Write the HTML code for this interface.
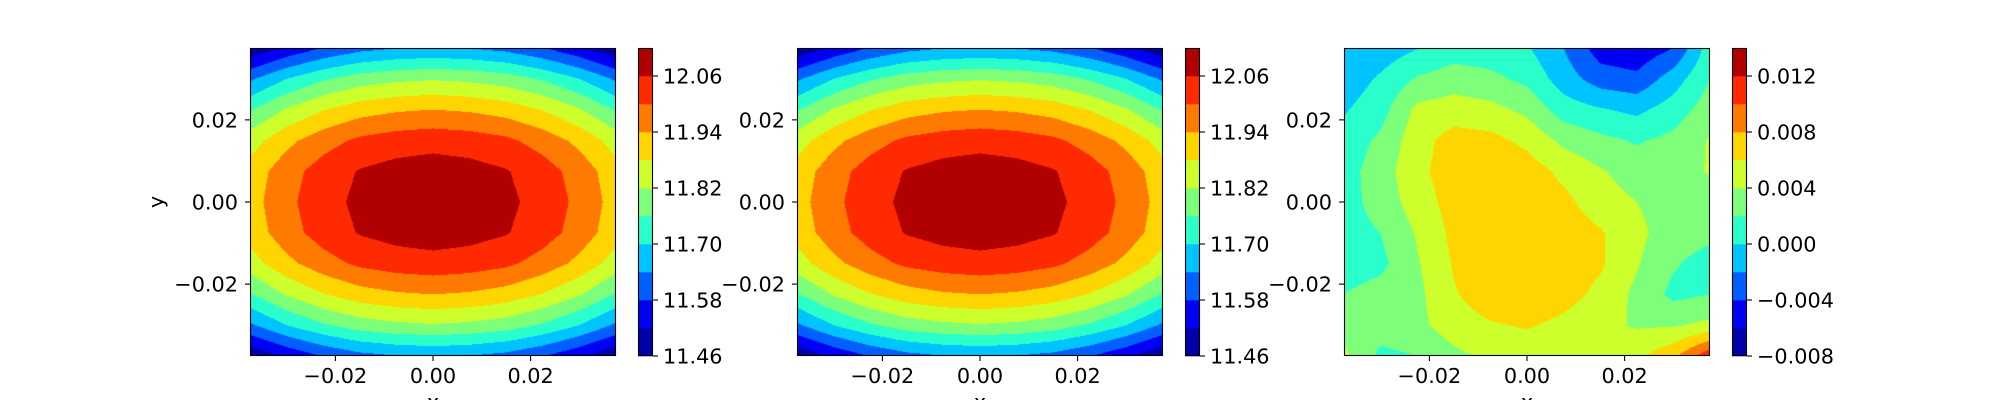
<!DOCTYPE html>
<html><head><meta charset="utf-8"><style>
html,body{margin:0;padding:0;background:#fff;}
#fig{position:relative;width:2000px;height:400px;overflow:hidden;background:#fff;}
canvas{position:absolute;}
svg{position:absolute;left:0;top:0;}
text{font-family:"DejaVu Sans","Liberation Sans",sans-serif;font-size:20.8px;fill:#000;}
</style></head><body>
<div id="fig">
<canvas id="c0" width="366" height="308" style="left:250px;top:48px"></canvas>
<canvas id="c1" width="366" height="308" style="left:797px;top:48px"></canvas>
<canvas id="c2" width="366" height="308" style="left:1344px;top:48px"></canvas>
<svg id="ov" width="2000" height="400"></svg>
</div>
<script>
const gridX = [-0.0375,-0.03,-0.0225,-0.015,-0.0075,0,0.0075,0.015,0.0225,0.03,0.0375];
const gridY = [0.0375,0.03,0.0225,0.015,0.0075,0,-0.0075,-0.015,-0.0225,-0.03,-0.0375];
const axisTicks = [-0.02,0,0.02];
const axisTickLabels = ["\u22120.02","0.00","0.02"];
const levels1 = [11.46,11.52,11.58,11.64,11.70,11.76,11.82,11.88,11.94,12.00,12.06,12.12];
const levels3 = [-0.008,-0.006,-0.004,-0.002,0,0.002,0.004,0.006,0.008,0.010,0.012,0.014];
const cbTicks1 = [11.46,11.58,11.70,11.82,11.94,12.06];
const cbTickLabels1 = ["11.46","11.58","11.70","11.82","11.94","12.06"];
const cbTicks3 = [-0.008,-0.004,0,0.004,0.008,0.012];
const cbTickLabels3 = ["\u22120.008","\u22120.004","0.000","0.004","0.008","0.012"];
const bandColors = ["#0000a8","#0000f5","#0060ff","#00c4ff","#2affcc","#7eff7a","#ccff2c","#ffd500","#ff7a00","#ff2a00","#b00000"];
const z1 = [
[11.470,11.531,11.583,11.620,11.638,11.646,11.638,11.620,11.583,11.531,11.470],
[11.629,11.700,11.752,11.789,11.807,11.815,11.807,11.789,11.752,11.700,11.629],
[11.754,11.825,11.877,11.914,11.932,11.940,11.932,11.914,11.877,11.825,11.754],
[11.852,11.923,11.975,12.012,12.030,12.038,12.030,12.012,11.975,11.923,11.852],
[11.904,11.975,12.027,12.064,12.082,12.090,12.082,12.064,12.027,11.975,11.904],
[11.914,11.985,12.037,12.074,12.092,12.100,12.092,12.074,12.037,11.985,11.914],
[11.904,11.975,12.027,12.064,12.082,12.090,12.082,12.064,12.027,11.975,11.904],
[11.852,11.923,11.975,12.012,12.030,12.038,12.030,12.012,11.975,11.923,11.852],
[11.754,11.825,11.877,11.914,11.932,11.940,11.932,11.914,11.877,11.825,11.754],
[11.629,11.700,11.752,11.789,11.807,11.815,11.807,11.789,11.752,11.700,11.629],
[11.470,11.531,11.583,11.620,11.638,11.646,11.638,11.620,11.583,11.531,11.470]];
const z2 = [
[11.470,11.531,11.583,11.620,11.638,11.646,11.638,11.620,11.583,11.531,11.470],
[11.629,11.700,11.752,11.789,11.807,11.815,11.807,11.789,11.752,11.700,11.629],
[11.754,11.825,11.877,11.914,11.932,11.940,11.932,11.914,11.877,11.825,11.754],
[11.852,11.923,11.975,12.012,12.030,12.038,12.030,12.012,11.975,11.923,11.852],
[11.904,11.975,12.027,12.064,12.082,12.090,12.082,12.064,12.027,11.975,11.904],
[11.914,11.985,12.037,12.074,12.092,12.100,12.092,12.074,12.037,11.985,11.914],
[11.904,11.975,12.027,12.064,12.082,12.090,12.082,12.064,12.027,11.975,11.904],
[11.852,11.923,11.975,12.012,12.030,12.038,12.030,12.012,11.975,11.923,11.852],
[11.754,11.825,11.877,11.914,11.932,11.940,11.932,11.914,11.877,11.825,11.754],
[11.629,11.700,11.752,11.789,11.807,11.815,11.807,11.789,11.752,11.700,11.629],
[11.470,11.531,11.583,11.620,11.638,11.646,11.638,11.620,11.583,11.531,11.470]];
const z3 = [
[-0.0015,-0.0012,-0.0001,0.0010,0.0008,0.0002,-0.0020,-0.0050,-0.0055,-0.0040,0.0010],
[-0.0012,0.0003,0.0022,0.0030,0.0025,0.0015,-0.0010,-0.0030,-0.0035,-0.0010,0.0020],
[-0.0002,0.0012,0.0045,0.0050,0.0046,0.0035,0.0010,0.0002,-0.0005,0.0010,0.0030],
[0.0008,0.0024,0.0052,0.0068,0.0066,0.0055,0.0035,0.0025,0.0018,0.0025,0.0042],
[0.0012,0.0030,0.0055,0.0070,0.0075,0.0070,0.0055,0.0042,0.0030,0.0030,0.0042],
[0.0012,0.0028,0.0050,0.0068,0.0075,0.0075,0.0065,0.0050,0.0040,0.0030,0.0030],
[0.0012,0.0020,0.0042,0.0065,0.0075,0.0078,0.0070,0.0062,0.0045,0.0030,0.0025],
[0.0010,0.0015,0.0038,0.0062,0.0075,0.0078,0.0070,0.0063,0.0042,0.0022,0.0012],
[0.0020,0.0028,0.0035,0.0058,0.0072,0.0075,0.0068,0.0055,0.0035,0.0015,0.0020],
[0.0030,0.0030,0.0035,0.0050,0.0058,0.0062,0.0055,0.0045,0.0038,0.0038,0.0045],
[0.0045,0.0015,0.0020,0.0035,0.0045,0.0048,0.0048,0.0048,0.0055,0.0075,0.0115]];

const PW=366, PH=308, TOP=48;
const lefts=[250,797,1344];
const XMIN=-0.0375, XMAX=0.0375, YMIN=-0.0375, YMAX=0.0375;
const NS="http://www.w3.org/2000/svg";
const ov=document.getElementById('ov');
function xScale(L,v){return L+(v-XMIN)/(XMAX-XMIN)*PW;}
function yScale(v){return TOP+(YMAX-v)/(YMAX-YMIN)*PH;}
function mk(tag,attrs){const e=document.createElementNS(NS,tag);for(const k in attrs)e.setAttribute(k,attrs[k]);ov.appendChild(e);return e;}
function hex(c){return [parseInt(c.substr(1,2),16),parseInt(c.substr(3,2),16),parseInt(c.substr(5,2),16)];}
const rgb=bandColors.map(hex);

function render(cid,z,levels){
  const cv=document.getElementById(cid),ctx=cv.getContext('2d');
  const img=ctx.createImageData(PW,PH);
  const nx=gridX.length, ny=gridY.length;
  const lo=levels[0], hi=levels[levels.length-1], nb=levels.length-1;
  for(let py=0;py<PH;py++){
    const yv=YMAX-(py+0.5)/PH*(YMAX-YMIN);
    let fy=(yv-gridY[0])/(gridY[1]-gridY[0]); fy=Math.max(0,Math.min(ny-1.0001,fy));
    const j=Math.floor(fy), ty=fy-j;
    for(let px=0;px<PW;px++){
      const xv=XMIN+(px+0.5)/PW*(XMAX-XMIN);
      let fx=(xv-gridX[0])/(gridX[1]-gridX[0]); fx=Math.max(0,Math.min(nx-1.0001,fx));
      const i=Math.floor(fx), tx=fx-i;
      const v=(z[j][i]*(1-tx)+z[j][i+1]*tx)*(1-ty)+(z[j+1][i]*(1-tx)+z[j+1][i+1]*tx)*ty;
      let b=Math.floor((v-lo)/(hi-lo)*nb); b=Math.max(0,Math.min(nb-1,b));
      const c=rgb[b], k=(py*PW+px)*4;
      img.data[k]=c[0];img.data[k+1]=c[1];img.data[k+2]=c[2];img.data[k+3]=255;
    }
  }
  ctx.putImageData(img,0,0);
}
render('c0',z1,levels1);
render('c1',z2,levels1);
render('c2',z3,levels3);

const panelLevels=[levels1,levels1,levels3];
const panelCbTicks=[cbTicks1,cbTicks1,cbTicks3];
const panelCbLabels=[cbTickLabels1,cbTickLabels1,cbTickLabels3];
for(let p=0;p<3;p++){
  const L=lefts[p];
  const sp=mk('rect',{x:L+0.5,y:TOP+0.5,width:PW-1,height:PH-1,fill:'none',stroke:'#000','stroke-width':1.1});
  
  
  for(let t=0;t<axisTicks.length;t++){
    const xt=xScale(L,axisTicks[t]);
    const tk=mk('line',{x1:xt,x2:xt,y1:TOP+PH,y2:TOP+PH+5,stroke:'#000','stroke-width':1.1});
    
    
    const tl=mk('text',{x:xt,y:TOP+PH+27,'text-anchor':'middle'});
    tl.textContent=axisTickLabels[t];
    
    
    const yt=yScale(axisTicks[t]);
    const tk2=mk('line',{x1:L-5,x2:L,y1:yt,y2:yt,stroke:'#000','stroke-width':1.1});
    
    
    const tl2=mk('text',{x:L-12,y:yt+7.5,'text-anchor':'end'});
    tl2.textContent=axisTickLabels[t];
    
    
  }
  const xl=mk('text',{x:L+PW/2,y:409,'text-anchor':'middle'});
  xl.textContent='x';
  
  
  const lv=panelLevels[p], CL=L+388, CW=15;
  const cbY=v=>TOP+(lv[lv.length-1]-v)/(lv[lv.length-1]-lv[0])*PH;
  for(let b=0;b<lv.length-1;b++){
    const r=mk('rect',{x:CL,y:cbY(lv[b+1]),width:CW,height:cbY(lv[b])-cbY(lv[b+1])+0.3,fill:bandColors[b]});
    
    
  }
  const cf=mk('rect',{x:CL+0.5,y:TOP+0.5,width:CW-1,height:PH-1,fill:'none',stroke:'#000','stroke-width':1.1});
  
  
  const ct=panelCbTicks[p], cl=panelCbLabels[p];
  for(let t=0;t<ct.length;t++){
    const yy=cbY(ct[t]);
    const k=mk('line',{x1:CL+CW,x2:CL+CW+5,y1:yy,y2:yy,stroke:'#000','stroke-width':1.1});
    
    
    const tx=mk('text',{x:CL+CW+10,y:yy+7.5});
    tx.textContent=cl[t];
    
    
  }
}
const yl=mk('text',{x:0,y:0,'text-anchor':'middle',transform:'translate(163,202) rotate(-90)'});
yl.textContent='y';


</script>
</body></html>
